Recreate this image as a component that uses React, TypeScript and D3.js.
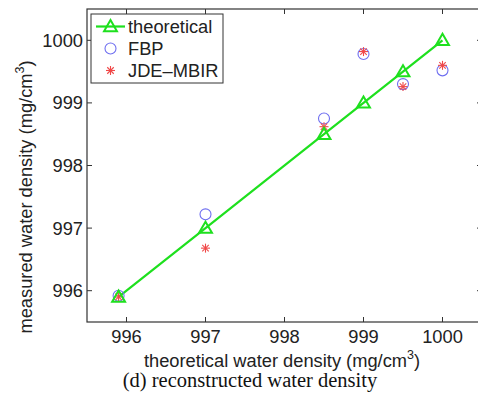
import React, { useEffect, useRef } from "react";
import * as d3 from "d3";

const theoreticalX = [995.9, 997, 998.5, 999, 999.5, 1000];
const theoreticalY = [995.9, 997, 998.5, 999, 999.5, 1000];
const fbpY = [995.92, 997.22, 998.75, 999.78, 999.3, 999.52];
const jdeY = [995.9, 996.68, 998.62, 999.82, 999.26, 999.6];
const tickValues = [996, 997, 998, 999, 1000];
const legendLabels = ["theoretical", "FBP", "JDE\u2013MBIR"];

const W = 478, H = 393;
const M = { left: 87, top: 9, right: 482, bottom: 322 };
const FONT = "'Liberation Sans', Arial, Helvetica, sans-serif";
const GREEN = "#1ee01e";
const BLUE = "#6f6ff0";
const RED = "#f04848";

export default function App() {
  const ref = useRef<SVGSVGElement>(null);
  useEffect(() => {
    const svg = d3.select(ref.current);
    svg.selectAll("*").remove();
    const x = d3.scaleLinear().domain([995.5, 1000.5]).range([M.left, M.right]);
    const y = d3.scaleLinear().domain([995.5, 1000.5]).range([M.bottom, M.top]);

    svg.append("rect").attr("width", W).attr("height", H).attr("fill", "#fff");

    svg.append("rect").attr("x", M.left).attr("y", M.top)
      .attr("width", M.right - M.left).attr("height", M.bottom - M.top)
      .attr("fill", "none").attr("stroke", "#333").attr("stroke-width", 1.2);

    const g = svg.append("g").attr("font-family", FONT).attr("font-size", 18.3).attr("fill", "#222");
    tickValues.forEach(v => {
      const px = x(v), py = y(v);
      g.append("line").attr("x1", px).attr("x2", px).attr("y1", M.bottom).attr("y2", M.bottom - 5).attr("stroke", "#333");
      g.append("line").attr("x1", px).attr("x2", px).attr("y1", M.top).attr("y2", M.top + 5).attr("stroke", "#333");
      g.append("line").attr("y1", py).attr("y2", py).attr("x1", M.left).attr("x2", M.left + 5).attr("stroke", "#333");
      g.append("line").attr("y1", py).attr("y2", py).attr("x1", M.right).attr("x2", M.right - 5).attr("stroke", "#333");
      g.append("text").attr("x", px).attr("y", 343).attr("text-anchor", "middle").text(String(v));
      g.append("text").attr("x", M.left - 4).attr("y", py + 6.5).attr("text-anchor", "end").text(String(v));
    });

    const xl = g.append("text").attr("x", 282).attr("y", 367).attr("text-anchor", "middle");
    xl.append("tspan").text("theoretical water density (mg/cm");
    xl.append("tspan").attr("font-size", 12.5).attr("dy", -8).text("3");
    xl.append("tspan").attr("dy", 8).text(")");

    const yl = g.append("text").attr("transform", `translate(32,197) rotate(-90)`).attr("text-anchor", "middle");
    yl.append("tspan").text("measured water density (mg/cm");
    yl.append("tspan").attr("font-size", 12.5).attr("dy", -8).text("3");
    yl.append("tspan").attr("dy", 8).text(")");

    svg.append("text").attr("x", 250).attr("y", 387).attr("text-anchor", "middle")
      .attr("font-family", "'Liberation Serif', 'Times New Roman', serif").attr("font-size", 20.5)
      .attr("fill", "#111").text("(d) reconstructed water density");

    const pts = theoreticalX.map((v, i) => [x(v), y(theoreticalY[i])] as [number, number]);
    svg.append("path").attr("d", d3.line()(pts)!).attr("fill", "none").attr("stroke", GREEN).attr("stroke-width", 2.2);

    const tri = d3.symbol().type(d3.symbolTriangle).size(72);
    const drawTri = (cx: number, cy: number) =>
      svg.append("path").attr("d", tri()!).attr("transform", `translate(${cx},${cy + 1})`)
        .attr("fill", "none").attr("stroke", GREEN).attr("stroke-width", 2);

    const drawCircle = (cx: number, cy: number) =>
      svg.append("circle").attr("cx", cx).attr("cy", cy).attr("r", 5.5)
        .attr("fill", "none").attr("stroke", BLUE).attr("stroke-width", 1.1);

    const drawStar = (cx: number, cy: number) => {
      const s = 4.5;
      const gg = svg.append("g").attr("transform", `translate(${cx},${cy})`).attr("stroke", RED).attr("stroke-width", 1.1);
      gg.append("line").attr("x1", -s).attr("x2", s).attr("y1", 0).attr("y2", 0);
      gg.append("line").attr("x1", 0).attr("x2", 0).attr("y1", -s).attr("y2", s);
      const d = s * 0.72;
      gg.append("line").attr("x1", -d).attr("x2", d).attr("y1", -d).attr("y2", d);
      gg.append("line").attr("x1", -d).attr("x2", d).attr("y1", d).attr("y2", -d);
    };

    theoreticalX.forEach((v, i) => drawCircle(x(v), y(fbpY[i])));
    theoreticalX.forEach((v, i) => drawStar(x(v), y(jdeY[i])));
    pts.forEach(p => drawTri(p[0], p[1]));

    svg.append("rect").attr("x", 91).attr("y", 14).attr("width", 132).attr("height", 69)
      .attr("fill", "#fff").attr("stroke", "#333").attr("stroke-width", 1);
    const ly = [26.5, 48.5, 70.5];
    svg.append("line").attr("x1", 96).attr("x2", 125).attr("y1", ly[0]).attr("y2", ly[0])
      .attr("stroke", GREEN).attr("stroke-width", 2.2);
    drawTri(110.5, ly[0]);
    drawCircle(110.5, ly[1]);
    drawStar(110.5, ly[2]);
    legendLabels.forEach((t, i) => {
      svg.append("text").attr("x", 128).attr("y", ly[i] + 6.5).attr("font-family", FONT)
        .attr("font-size", 18.3).attr("fill", "#222").text(t);
    });
  }, []);
  return (
    <svg ref={ref} width={W} height={H} style={{ position: "absolute", left: 0, top: 0 }} />
  );
}
